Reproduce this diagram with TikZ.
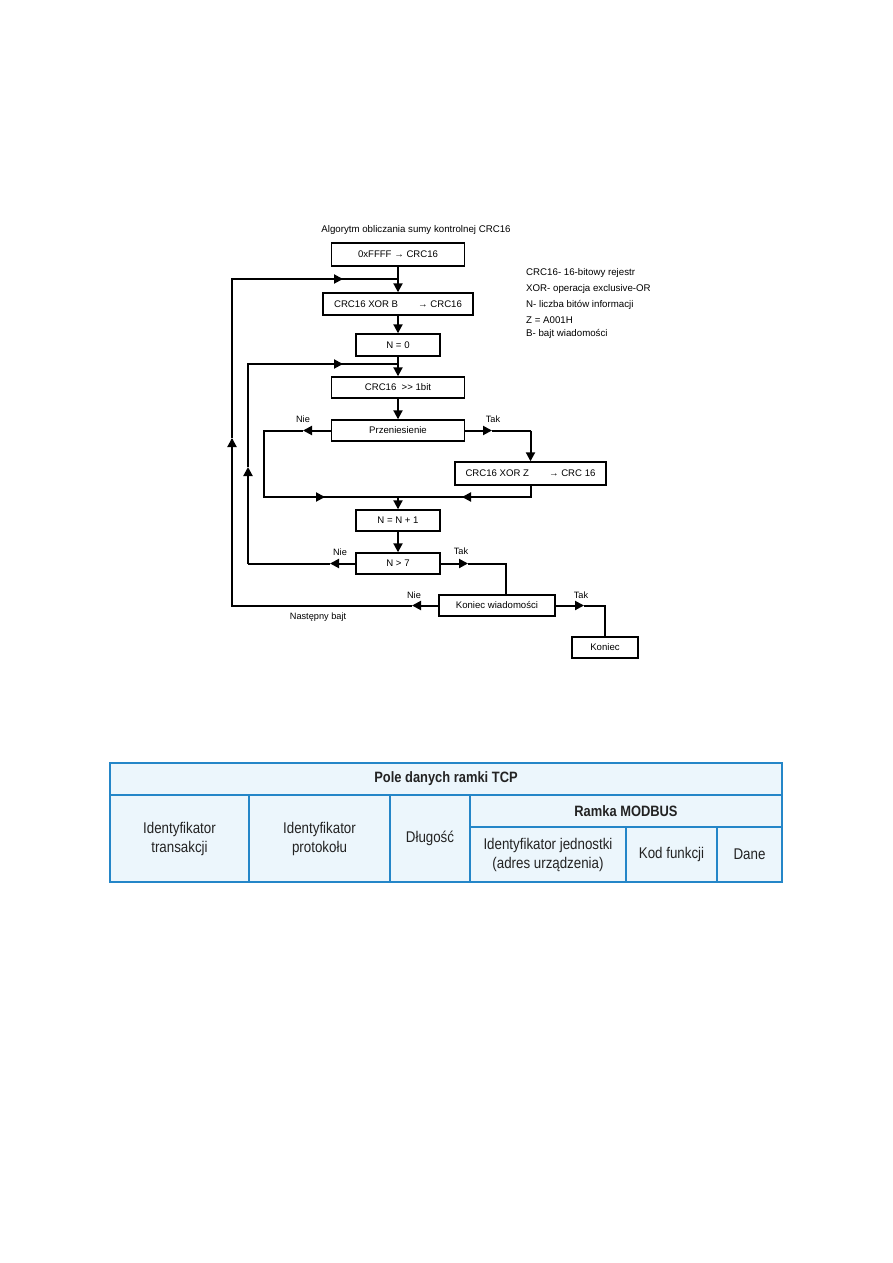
\documentclass[tikz,border=0pt]{standalone}
\usepackage{fontspec}
\setmainfont{Liberation Sans}
\newfontfamily\condfont[FakeStretch=0.86]{Liberation Sans}
\usetikzlibrary{arrows.meta,positioning,calc}
\definecolor{tline}{RGB}{36,134,200}
\definecolor{tfill}{RGB}{236,246,252}
\definecolor{ttext}{RGB}{35,35,35}
\tikzset{
  box/.style={draw, line width=1.4pt, inner sep=0pt, font=\fontsize{9.6}{11}\selectfont},
  conn/.style={line width=2pt},
  tip/.style={conn,-{Triangle[length=9pt,width=9pt]}},
  lbl/.style={inner sep=0pt, font=\fontsize{9.2}{11}\selectfont},
  leg/.style={inner sep=0pt, anchor=west, font=\fontsize{9.7}{11}\selectfont},
  tcell/.style={inner sep=0pt, align=center, text=ttext, font=\condfont\fontsize{15.5}{19}\selectfont},
  thead/.style={inner sep=0pt, align=center, text=ttext, font=\condfont\bfseries\fontsize{15}{18}\selectfont},
  tl/.style={draw=tline, line width=1.1pt}
}
\begin{document}
\begin{tikzpicture}[x=1pt,y=-1pt]
\useasboundingbox (0,0) rectangle (893,1263);
% ---------- title and legend
\node[lbl, font=\fontsize{9.7}{11}\selectfont] (title) at (416,230) {Algorytm obliczania sumy kontrolnej CRC16};
\node[leg] (l1) at (526,273) {CRC16- 16-bitowy rejestr};
\node[leg] (l2) at (526,289) {XOR- operacja exclusive-OR};
\node[leg] (l3) at (526,305) {N- liczba bitów informacji};
\node[leg] (l4) at (526,320) {Z = A001H};
\node[leg] (l5) at (526,334) {B- bajt wiadomości};
% ---------- boxes
\node[box, minimum width=133pt, minimum height=23pt] (b1) at (398,254.5) {0xFFFF → CRC16};
\node[box, minimum width=150pt, minimum height=22pt] (b2) at (398,304) {CRC16 XOR B\hspace{20pt}→ CRC16};
\node[box, minimum width=84pt, minimum height=22pt] (b3) at (398,345) {N = 0};
\node[box, minimum width=133pt, minimum height=21pt] (b4) at (398,387.5) {CRC16\ \ >{}> 1bit};
\node[box, minimum width=133pt, minimum height=21pt] (b5) at (398,430.5) {Przeniesienie};
\node[box, minimum width=151pt, minimum height=23pt] (b6) at (530.5,473.5) {CRC16 XOR Z\hspace{20pt}→ CRC 16};
\node[box, minimum width=84pt, minimum height=21pt] (b7) at (398,520.5) {N = N + 1};
\node[box, minimum width=84pt, minimum height=21pt] (b8) at (398,563.5) {N > 7};
\node[box, minimum width=116pt, minimum height=21pt] (b9) at (497,605.5) {Koniec wiadomości};
\node[box, minimum width=66pt, minimum height=21pt] (b10) at (605,647.5) {Koniec};
% ---------- helper coordinates
\coordinate (j1) at (398,279);
\coordinate (j2) at (398,364);
\coordinate (j3) at (398,497);
\coordinate (o1) at (232,605.5);
\coordinate (o2) at (232,279);
\coordinate (oa1) at (412,605.5);
\coordinate (oa2) at (232,438);
\coordinate (oa3) at (343,279);
\coordinate (i1) at (248,563.5);
\coordinate (i2) at (248,364);
\coordinate (ia1) at (330,563.5);
\coordinate (ia2) at (248,467);
\coordinate (ia3) at (343,364);
\coordinate (n1) at (264,430.5);
\coordinate (n2) at (264,497);
\coordinate (na1) at (303,430.5);
\coordinate (na2) at (325,497);
\coordinate (t1) at (530.5,430.5);
\coordinate (ta1) at (492,430.5);
\coordinate (t2) at (530.5,497);
\coordinate (ta2) at (462,497);
\coordinate (k1) at (506,563.5);
\coordinate (ka1) at (468,563.5);
\coordinate (e1) at (605,605.5);
\coordinate (ea1) at (584,605.5);
% ---------- main vertical flow
\draw[tip] (b1.south) -- (b2.north);
\draw[tip] (b2.south) -- (b3.north);
\draw[tip] (b3.south) -- (b4.north);
\draw[tip] (b4.south) -- (b5.north);
\draw[tip] (j3) -- (b7.north);
\draw[tip] (b7.south) -- (b8.north);
% outer loop (next byte)
\draw[tip] (b9.west) -- (oa1);
\draw[conn] (oa1) -- (o1) -- (232,439);
\draw[tip] (o1) -- (oa2);
\draw[conn] (oa2) -- (o2) -- (j1);
\draw[tip] (o2) -- (oa3);
% inner loop (bits)
\draw[tip] (b8.west) -- (ia1);
\draw[conn] (ia1) -- (i1);
\draw[tip] (i1) -- (ia2);
\draw[conn] (ia2) -- (i2) -- (j2);
\draw[tip] (i2) -- (ia3);
% carry: no
\draw[tip] (b5.west) -- (na1);
\draw[conn] (na1) -- (n1) -- (n2) -- (j3);
\draw[tip] (n2) -- (na2);
% carry: yes
\draw[tip] (b5.east) -- (ta1);
\draw[conn] (ta1) -- (t1);
\draw[tip] (t1) -- (b6.north);
\draw[conn] (b6.south) -- (t2) -- (j3);
\draw[tip] (t2) -- (ta2);
% N > 7 yes
\draw[tip] (b8.east) -- (ka1);
\draw[conn] (ka1) -- (k1) -- (506,0 |- b9.north);
% end of message yes
\draw[tip] (b9.east) -- (ea1);
\draw[conn] (ea1) -- (e1) -- (b10.north);
% ---------- labels
\node[lbl] (nie1) at (303,419) {Nie};
\node[lbl] (tak1) at (493,419) {Tak};
\node[lbl] (nie2) at (340,552) {Nie};
\node[lbl] (tak2) at (461,551.5) {Tak};
\node[lbl] (nie3) at (414,595) {Nie};
\node[lbl] (tak3) at (581,595) {Tak};
\node[lbl] (nb) at (318,617.5) {Następny bajt};
% ---------- table
\fill[tfill] (110,763) rectangle (782,882);
\draw[tl] (110,763) rectangle (782,882);
\draw[tl] (110,795) -- (782,795);
\draw[tl] (470,827) -- (782,827);
\draw[tl] (249,795) -- (249,882);
\draw[tl] (390,795) -- (390,882);
\draw[tl] (470,795) -- (470,882);
\draw[tl] (626,827) -- (626,882);
\draw[tl] (717,827) -- (717,882);
\node[thead] (h1) at (446,779) {Pole danych ramki TCP};
\node[thead] (h2) at (626,811) {Ramka MODBUS};
\node[tcell] (c1) at (179.5,838.5) {Identyfikator\\transakcji};
\node[tcell] (c2) at (319.5,838.5) {Identyfikator\\protokołu};
\node[tcell] (c3) at (430,838.5) {Długość};
\node[tcell] (c4) at (548,854.5) {Identyfikator jednostki\\(adres urządzenia)};
\node[tcell] (c5) at (671.5,854.5) {Kod funkcji};
\node[tcell] (c6) at (749.5,854.5) {Dane};
\end{tikzpicture}
\end{document}
